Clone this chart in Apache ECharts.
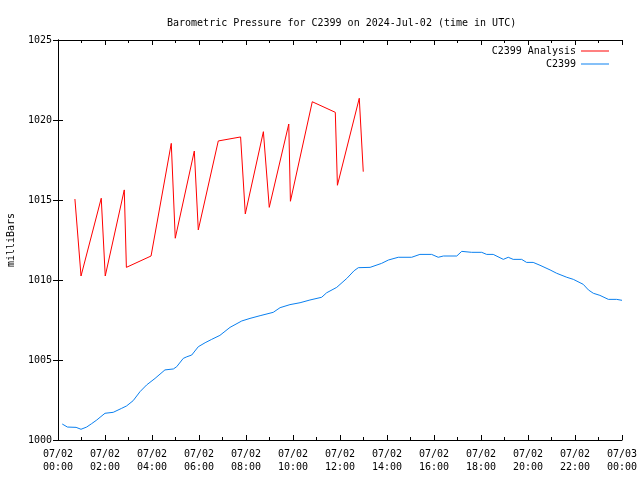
<!DOCTYPE html>
<html>
<head>
<meta charset="utf-8">
<script src="https://cdn.jsdelivr.net/npm/echarts@6/dist/echarts.min.js"></script>
<style>html,body{margin:0;padding:0;background:#fff}#c{width:640px;height:480px}</style>
</head>
<body>
<div id="c"></div>
<script>
// Hours since 2024-07-02 00:00 UTC, pressure in milliBars
const analysisHours = [0.72,0.98,1.84,2.01,2.82,2.91,3.96,4.82,4.99,5.80,5.97,6.82,7.77,7.97,8.74,8.99,9.82,9.89,10.82,11.80,11.89,12.82,12.99];
const analysisValues = [1015.06,1010.25,1015.11,1010.25,1015.63,1010.79,1011.50,1018.54,1012.61,1018.06,1013.13,1018.69,1018.94,1014.13,1019.27,1014.54,1019.75,1014.92,1021.14,1020.48,1015.92,1021.36,1016.77];

const obsHours = [0.18,0.40,0.77,0.98,1.22,1.43,1.65,1.79,2.00,2.35,2.71,2.92,3.20,3.49,3.77,4.13,4.55,4.63,4.91,5.05,5.33,5.48,5.69,5.97,6.26,6.54,6.89,7.32,7.82,8.17,8.60,9.16,9.45,9.87,10.30,10.72,11.22,11.43,11.86,12.29,12.60,12.78,13.28,13.77,14.06,14.48,15.05,15.40,15.90,16.18,16.40,16.97,17.18,17.60,18.03,18.24,18.52,18.95,19.16,19.37,19.73,19.94,20.22,20.51,20.94,21.22,21.65,21.93,22.35,22.57,22.78,23.06,23.42,23.77,24.00];
const obsValues = [1001.00,1000.81,1000.79,1000.67,1000.81,1001.02,1001.25,1001.42,1001.67,1001.73,1001.98,1002.13,1002.46,1003.02,1003.44,1003.85,1004.38,1004.44,1004.44,1004.58,1005.10,1005.20,1005.31,1005.83,1006.08,1006.29,1006.54,1007.04,1007.44,1007.60,1007.77,1007.98,1008.27,1008.46,1008.58,1008.75,1008.92,1009.20,1009.54,1010.10,1010.58,1010.77,1010.79,1011.04,1011.25,1011.42,1011.42,1011.60,1011.60,1011.42,1011.50,1011.50,1011.79,1011.73,1011.73,1011.60,1011.60,1011.29,1011.42,1011.29,1011.29,1011.10,1011.10,1010.92,1010.63,1010.42,1010.17,1010.04,1009.73,1009.38,1009.17,1009.04,1008.79,1008.79,1008.73];

const seriesNames = ['C2399 Analysis', 'C2399'];
const titleText = 'Barometric Pressure for C2399 on 2024-Jul-02 (time in UTC)';
const yAxisName = 'milliBars';

const FONT = 'DejaVu Sans Mono';
function fmtHour(h) {
  const day = h >= 24 ? '07/03' : '07/02';
  const hh = String(h % 24).padStart(2, '0');
  return day + '\n' + hh + ':00';
}
const zip = (a, b) => a.map((v, i) => [v, b[i]]);

const chart = echarts.init(document.getElementById('c'), null, {renderer: 'canvas'});
const xBase = {
  type: 'value', min: 0, max: 24, interval: 2,
  axisLine: {lineStyle: {color: '#000', width: 1}},
  axisTick: {inside: true, length: 5, lineStyle: {color: '#000'}},
  minorTick: {show: true, splitNumber: 2, length: 3, lineStyle: {color: '#000'}},
  splitLine: {show: false}
};
const yBase = {
  type: 'value', min: 1000, max: 1025, interval: 5,
  axisLine: {show: true, lineStyle: {color: '#000', width: 1}},
  axisTick: {show: true, inside: true, length: 5, lineStyle: {color: '#000'}},
  splitLine: {show: false}
};
chart.setOption({
  animation: false,
  backgroundColor: '#fff',
  textStyle: {fontFamily: FONT},
  title: {
    text: titleText, left: 162, top: 13,
    textStyle: {fontFamily: FONT, fontSize: 10, fontWeight: 'normal', color: '#000'}
  },
  legend: [
    {data: [seriesNames[0]], orient: 'vertical', right: 26, top: 41, align: 'right',
     icon: 'rect', itemWidth: 28, itemHeight: 1, itemGap: 0,
     textStyle: {fontFamily: FONT, fontSize: 10, color: '#000'}},
    {data: [seriesNames[1]], orient: 'vertical', right: 26, top: 54, align: 'right',
     icon: 'rect', itemWidth: 28, itemHeight: 1, itemGap: 0,
     textStyle: {fontFamily: FONT, fontSize: 10, color: '#000'}}
  ],
  grid: {left: 58, right: 18, top: 40, bottom: 40, containLabel: false, outerBoundsMode: 'none'},
  xAxis: [
    Object.assign({}, xBase, {position: 'bottom',
      axisLabel: {formatter: fmtHour, fontFamily: FONT, fontSize: 10, color: '#000', margin: 8, lineHeight: 13}}),
    Object.assign({}, xBase, {position: 'top', axisLabel: {show: false}})
  ],
  yAxis: [
    Object.assign({}, yBase, {position: 'left',
      name: yAxisName, nameLocation: 'middle', nameGap: 42, nameRotate: 90,
      nameTextStyle: {fontFamily: FONT, fontSize: 10, color: '#000'},
      axisLabel: {formatter: v => String(v), fontFamily: FONT, fontSize: 10, color: '#000', margin: 6}}),
    Object.assign({}, yBase, {position: 'right', axisLabel: {show: false}})
  ],
  series: [
    {name: seriesNames[0], type: 'line', data: zip(analysisHours, analysisValues),
     showSymbol: false, symbol: 'none', lineStyle: {color: '#ff0000', width: 1}, itemStyle: {color: '#ff0000'}},
    {name: seriesNames[1], type: 'line', data: zip(obsHours, obsValues),
     showSymbol: false, symbol: 'none', lineStyle: {color: '#0a80f0', width: 1}, itemStyle: {color: '#0a80f0'}}
  ]
});
</script>
</body>
</html>
